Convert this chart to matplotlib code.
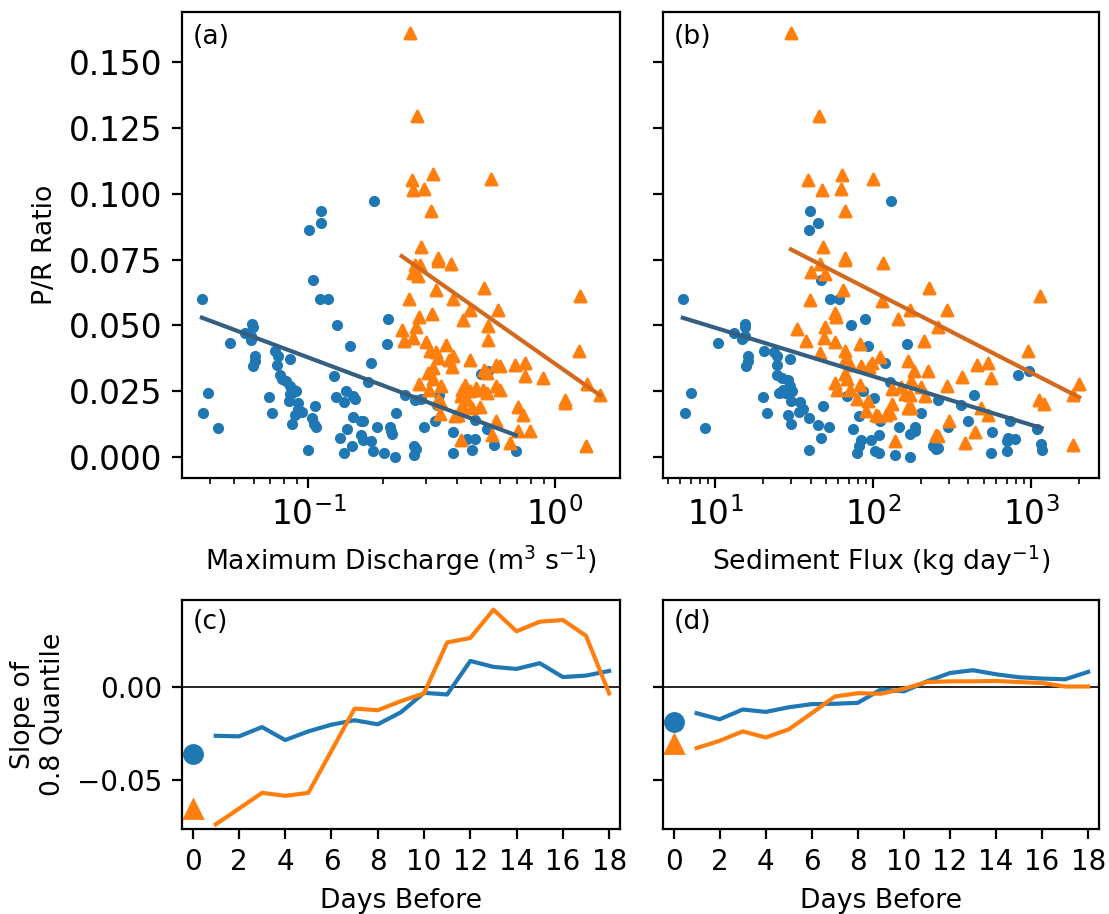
import matplotlib
matplotlib.use("Agg")
import matplotlib.pyplot as plt
import numpy as np

plt.rcParams["font.family"] = "DejaVu Sans"
plt.rcParams["font.size"] = 9.6

# ---- panel (a): P/R ratio vs maximum discharge ----
a_blue_x = [0.184, 0.112, 0.112, 0.101, 0.104, 0.111, 0.120, 0.037, 0.0592, 0.0595,
            0.131, 0.210, 0.208, 0.147, 0.0482, 0.0551, 0.0587, 0.0587, 0.0609, 0.0605,
            0.0598, 0.0731, 0.0753, 0.0841, 0.0748, 0.0769, 0.0784, 0.0814, 0.0845, 0.0877,
            0.0894, 0.0858, 0.0839, 0.127, 0.180, 0.175, 0.0393, 0.0374, 0.0429, 0.0690,
            0.0715, 0.0832, 0.0908, 0.0908, 0.0945, 0.0886, 0.0858, 0.1065, 0.1035, 0.1055,
            0.1071, 0.142, 0.152, 0.155, 0.129, 0.139, 0.151, 0.164, 0.167, 0.189,
            0.214, 0.217, 0.219, 0.144, 0.164, 0.167, 0.180, 0.134, 0.150, 0.183,
            0.202, 0.140, 0.224, 0.100, 0.226, 0.247, 0.270, 0.285, 0.339, 0.332,
            0.293, 0.326, 0.387, 0.387, 0.439, 0.475, 0.460, 0.473, 0.529, 0.500,
            0.536, 0.565, 0.694, 0.267, 0.273, 0.267]
a_blue_y = [0.0973, 0.0932, 0.0888, 0.0863, 0.0671, 0.0601, 0.0601, 0.0601, 0.0506, 0.0495,
            0.0503, 0.0525, 0.0431, 0.0423, 0.0434, 0.0471, 0.0459, 0.0446, 0.0383, 0.0364,
            0.0348, 0.0404, 0.0385, 0.0373, 0.0350, 0.0313, 0.0297, 0.0291, 0.0269, 0.0257,
            0.0250, 0.0244, 0.0241, 0.0310, 0.0358, 0.0284, 0.0244, 0.0168, 0.0111, 0.0227,
            0.0168, 0.0212, 0.0206, 0.0183, 0.0172, 0.0161, 0.0128, 0.0193, 0.0149, 0.0128,
            0.0114, 0.0253, 0.0234, 0.0222, 0.0229, 0.0208, 0.0153, 0.0136, 0.0136, 0.0114,
            0.0114, 0.0101, 0.0089, 0.0108, 0.0083, 0.0067, 0.0061, 0.0075, 0.0042, 0.0025,
            0.0017, 0.0017, 0.0002, 0.0029, 0.0168, 0.0238, 0.0219, 0.0221, 0.0238, 0.0197,
            0.0114, 0.0139, 0.0096, 0.0017, 0.0071, 0.0071, 0.0027, 0.0140, 0.0106, 0.0315,
            0.0326, 0.0048, 0.0025, 0.0042, 0.0032, 0.0008]

a_orange_x = [0.259, 0.2755, 0.263, 0.2655, 0.294, 0.3215, 0.549, 0.314, 0.285, 0.335,
              0.334, 0.380, 0.270, 0.283, 0.2655, 0.278, 0.330, 0.516, 0.256, 0.385,
              1.264, 0.280, 0.318, 0.454, 0.585, 0.424, 0.239, 0.274, 0.536, 0.245,
              0.2655, 0.301, 0.360, 0.533, 0.3105, 0.330, 0.335, 0.386, 0.372, 0.383,
              0.454, 0.320, 0.5755, 0.597, 0.688, 0.755, 1.252, 0.3055, 0.516, 0.528,
              0.320, 0.757, 0.891, 0.281, 0.346, 0.431, 0.4215, 0.4775, 0.451, 0.511,
              0.528, 0.579, 0.597, 0.308, 1.346, 1.524, 1.098, 1.098, 0.335, 0.346,
              0.414, 0.438, 0.418, 0.459, 0.496, 0.414, 0.709, 0.743, 0.343, 0.392,
              0.404, 0.579, 0.709, 0.7915, 0.553, 0.656, 0.415, 1.333]
a_orange_y = [0.1608, 0.1295, 0.1050, 0.1012, 0.1017, 0.1074, 0.1056, 0.0934, 0.0798, 0.0756,
              0.0743, 0.0733, 0.0730, 0.0730, 0.0699, 0.0689, 0.0634, 0.0643, 0.0601, 0.0600,
              0.0612, 0.0532, 0.0545, 0.0557, 0.0560, 0.0522, 0.0484, 0.0496, 0.0499, 0.0442,
              0.0453, 0.0436, 0.0427, 0.0443, 0.0402, 0.0398, 0.0377, 0.0383, 0.0370, 0.0343,
              0.0368, 0.0339, 0.0351, 0.0345, 0.0351, 0.0358, 0.0402, 0.0320, 0.0330, 0.0320,
              0.0297, 0.0307, 0.0301, 0.0279, 0.0269, 0.0276, 0.0257, 0.0263, 0.0250, 0.0257,
              0.0244, 0.0269, 0.0257, 0.0257, 0.0279, 0.0238, 0.0219, 0.0206, 0.0219, 0.0206,
              0.0231, 0.0219, 0.0193, 0.0187, 0.0190, 0.0185, 0.0191, 0.0162, 0.0166, 0.0155,
              0.0162, 0.0136, 0.0099, 0.0099, 0.0086, 0.0055, 0.0064, 0.0044]

# ---- panel (b): P/R ratio vs sediment flux ----
b_blue_x = [129.3, 39.9, 44.3, 39.3, 46.8, 53.3, 61.0, 6.21, 15.35, 15.42,
            72.6, 88.6, 163.2, 92.0, 10.32, 13.14, 14.69, 15.28, 16.10, 16.10,
            15.64, 20.17, 23.50, 24.43, 29.73, 24.43, 24.68, 26.28, 28.68, 29.73,
            26.66, 30.70, 27.45, 25.16, 118.5, 126.7, 7.00, 6.42, 8.62, 19.86,
            21.28, 30.08, 34.28, 36.02, 33.79, 28.96, 30.08, 39.29, 44.33, 47.66,
            52.55, 46.50, 39.18, 67.87, 86.48, 101.5, 81.6, 74.8, 83.6, 81.6,
            78.5, 96.4, 102.2, 109.1, 109.1, 136.6, 145.9, 170.4, 183.3, 183.3,
            170.4, 201.7, 239.0, 249.7, 255.3, 297.3, 357.6, 397.6, 433.9, 565.6,
            557.5, 257.2, 700.6, 718.1, 794.9, 703.7, 731.7, 821.8, 974.1, 1088,
            1153, 1165, 110.3]
b_blue_y = [0.0973, 0.0932, 0.0888, 0.0863, 0.0671, 0.0601, 0.0601, 0.0601, 0.0505, 0.0495,
            0.0503, 0.0525, 0.0430, 0.0423, 0.0434, 0.0471, 0.0449, 0.0459, 0.0383, 0.0364,
            0.0348, 0.0404, 0.0399, 0.0385, 0.0373, 0.0350, 0.0313, 0.0301, 0.0294, 0.0269,
            0.0257, 0.0253, 0.0244, 0.0243, 0.0358, 0.0284, 0.0244, 0.0168, 0.0111, 0.0227,
            0.0168, 0.0212, 0.0208, 0.0183, 0.0171, 0.0161, 0.0128, 0.0149, 0.0124, 0.0193,
            0.0114, 0.0074, 0.0029, 0.0231, 0.0250, 0.0225, 0.0155, 0.0107, 0.0064, 0.0042,
            0.0017, 0.0067, 0.0023, 0.0017, 0.0086, 0.0008, 0.0114, 0.0089, 0.0099, 0.0116,
            0.0003, 0.0168, 0.0042, 0.0033, 0.0219, 0.0114, 0.0197, 0.0139, 0.0238, 0.0096,
            0.0017, 0.0036, 0.0061, 0.0074, 0.0070, 0.0025, 0.0139, 0.0313, 0.0326, 0.0106,
            0.0049, 0.0027, 0.0136]

b_orange_x = [30.08, 44.98, 38.33, 47.18, 62.55, 63.10, 100.0, 66.31, 47.87, 66.31,
              66.31, 115.6, 45.63, 40.45, 49.58, 224.6, 64.03, 1140, 39.86, 112.8,
              293.9, 170.4, 57.33, 58.17, 143.8, 32.90, 49.43, 255.3, 37.24, 48.72,
              57.33, 82.44, 208.9, 46.10, 66.31, 67.08, 109.6, 98.56, 94.08, 165.5,
              960.1, 71.29, 83.63, 182.2, 221.3, 66.31, 67.87, 451.1, 533.9, 363.4,
              555.2, 57.33, 58.68, 82.44, 71.29, 131.2, 150.8, 174.4, 157.6, 170.4,
              201.7, 212.0, 293.9, 2014, 1841, 79.03, 91.92, 89.68, 131.2, 126.7,
              120.8, 107.1, 103.4, 165.5, 174.4, 480.1, 529.3, 1128, 1204, 300.8,
              136.3, 250.8, 380.6, 442.0, 1849, 257.2]
b_orange_y = [0.1608, 0.1295, 0.1050, 0.1012, 0.1017, 0.1071, 0.1056, 0.0935, 0.0798, 0.0756,
              0.0747, 0.0737, 0.0733, 0.0701, 0.0695, 0.0642, 0.0634, 0.0610, 0.0598, 0.0594,
              0.0560, 0.0560, 0.0546, 0.0531, 0.0525, 0.0486, 0.0496, 0.0493, 0.0441, 0.0453,
              0.0436, 0.0428, 0.0442, 0.0394, 0.0402, 0.0377, 0.0380, 0.0358, 0.0344, 0.0366,
              0.0402, 0.0349, 0.0348, 0.0326, 0.0326, 0.0317, 0.0297, 0.0349, 0.0359, 0.0306,
              0.0299, 0.0282, 0.0257, 0.0273, 0.0255, 0.0259, 0.0266, 0.0290, 0.0241, 0.0236,
              0.0268, 0.0234, 0.0272, 0.0277, 0.0235, 0.0221, 0.0212, 0.0174, 0.0203, 0.0168,
              0.0160, 0.0157, 0.0159, 0.0187, 0.0187, 0.0188, 0.0160, 0.0217, 0.0204, 0.0136,
              0.0063, 0.0086, 0.0056, 0.0097, 0.0045, 0.0080]

# fitted lines: P/R = intercept + slope * log10(x)
fit_a_blue = (0.00284, -0.0350)
fit_a_orange = (0.0355, -0.0656)
fit_b_blue = (0.0675, -0.0184)
fit_b_orange = (0.1242, -0.0307)

# ---- panels (c), (d): slope of 0.8 quantile vs days before ----
days = list(range(1, 19))
c_blue = [-0.0263, -0.0266, -0.0216, -0.0286, -0.0239, -0.0203, -0.0179, -0.0201, -0.0136,
          -0.0031, -0.0040, 0.0141, 0.0109, 0.0098, 0.0129, 0.0054, 0.0062, 0.0087]
c_orange = [-0.0741, -0.0656, -0.0571, -0.0587, -0.0571, -0.0344, -0.0116, -0.0125, -0.0076,
            -0.0034, 0.0241, 0.0265, 0.0418, 0.0301, 0.0353, 0.0362, 0.0277, -0.0034]
c_day0 = (-0.0361, -0.0660)
d_blue = [-0.0141, -0.0174, -0.0121, -0.0134, -0.0109, -0.0092, -0.0090, -0.0085, -0.0013,
          -0.0023, 0.0031, 0.0076, 0.0091, 0.0069, 0.0053, 0.0046, 0.0042, 0.0082]
d_orange = [-0.0329, -0.0290, -0.0239, -0.0272, -0.0228, -0.0141, -0.0051, -0.0033, -0.0036,
            -0.0009, 0.0027, 0.0031, 0.0031, 0.0033, 0.0027, 0.0022, 0.0003, 0.0003]
d_day0 = (-0.0190, -0.0308)

BLUE = "#1f77b4"
ORANGE = "#ff7f0e"
BLUE_FIT = "#345f80"
ORANGE_FIT = "#d4691d"


def scatter_panel(ax, bx, by, ox, oy, fit_b, fit_o, label):
    ax.scatter(bx, by, s=9, color=BLUE, marker="o", zorder=2)
    ax.scatter(ox, oy, s=16, color=ORANGE, marker="^", zorder=2)
    for xs, fit, col in ((bx, fit_b, BLUE_FIT), (ox, fit_o, ORANGE_FIT)):
        xl = np.array([min(xs), max(xs)])
        ax.plot(xl, fit[0] + fit[1] * np.log10(xl), color=col, lw=1.5, zorder=3)
    ax.set_xscale("log")
    ax.tick_params(labelsize=11.8)
    ax.text(0.025, 0.975, label, transform=ax.transAxes, va="top", ha="left")


def slope_panel(ax, blue, orange, day0, label):
    ax.axhline(0, color="k", lw=0.6)
    ax.plot(days, blue, color=BLUE, lw=1.5)
    ax.plot(days, orange, color=ORANGE, lw=1.5)
    ax.plot([0], [day0[0]], "o", color=BLUE, ms=6.5)
    ax.plot([0], [day0[1]], "^", color=ORANGE, ms=6.5)
    ax.set_xticks(range(0, 19, 2))
    ax.set_xlim(-0.46, 18.47)
    ax.tick_params(labelsize=10)
    ax.set_xlabel("Days Before")
    ax.text(0.025, 0.96, label, transform=ax.transAxes, va="top", ha="left")


fig = plt.figure(figsize=(5.545, 4.57), dpi=200)
W, H = 1109.0, 914.0
ax_a = fig.add_axes([182 / W, 1 - 478 / H, 438 / W, 466 / H])
ax_b = fig.add_axes([663 / W, 1 - 478 / H, 436 / W, 466 / H], sharey=ax_a)
ax_c = fig.add_axes([182 / W, 1 - 829 / H, 438 / W, 229 / H])
ax_d = fig.add_axes([663 / W, 1 - 829 / H, 436 / W, 229 / H], sharey=ax_c)

scatter_panel(ax_a, a_blue_x, a_blue_y, a_orange_x, a_orange_y, fit_a_blue, fit_a_orange, "(a)")
scatter_panel(ax_b, b_blue_x, b_blue_y, b_orange_x, b_orange_y, fit_b_blue, fit_b_orange, "(b)")
ax_a.set_yticks([0.0, 0.025, 0.05, 0.075, 0.1, 0.125, 0.15])
ax_a.set_ylabel("P/R Ratio")
ax_a.set_xlabel("Maximum Discharge (m$^3$ s$^{-1}$)")
ax_b.set_xlabel("Sediment Flux (kg day$^{-1}$)")
ax_b.tick_params(labelleft=False)

slope_panel(ax_c, c_blue, c_orange, c_day0, "(c)")
slope_panel(ax_d, d_blue, d_orange, d_day0, "(d)")
ax_c.set_ylim(-0.0766, 0.0470)
ax_c.set_yticks([-0.05, 0.0])
ax_c.set_ylabel("Slope of\n0.8 Quantile")
ax_d.tick_params(labelleft=False)

fig.savefig("out.png", dpi=200)
